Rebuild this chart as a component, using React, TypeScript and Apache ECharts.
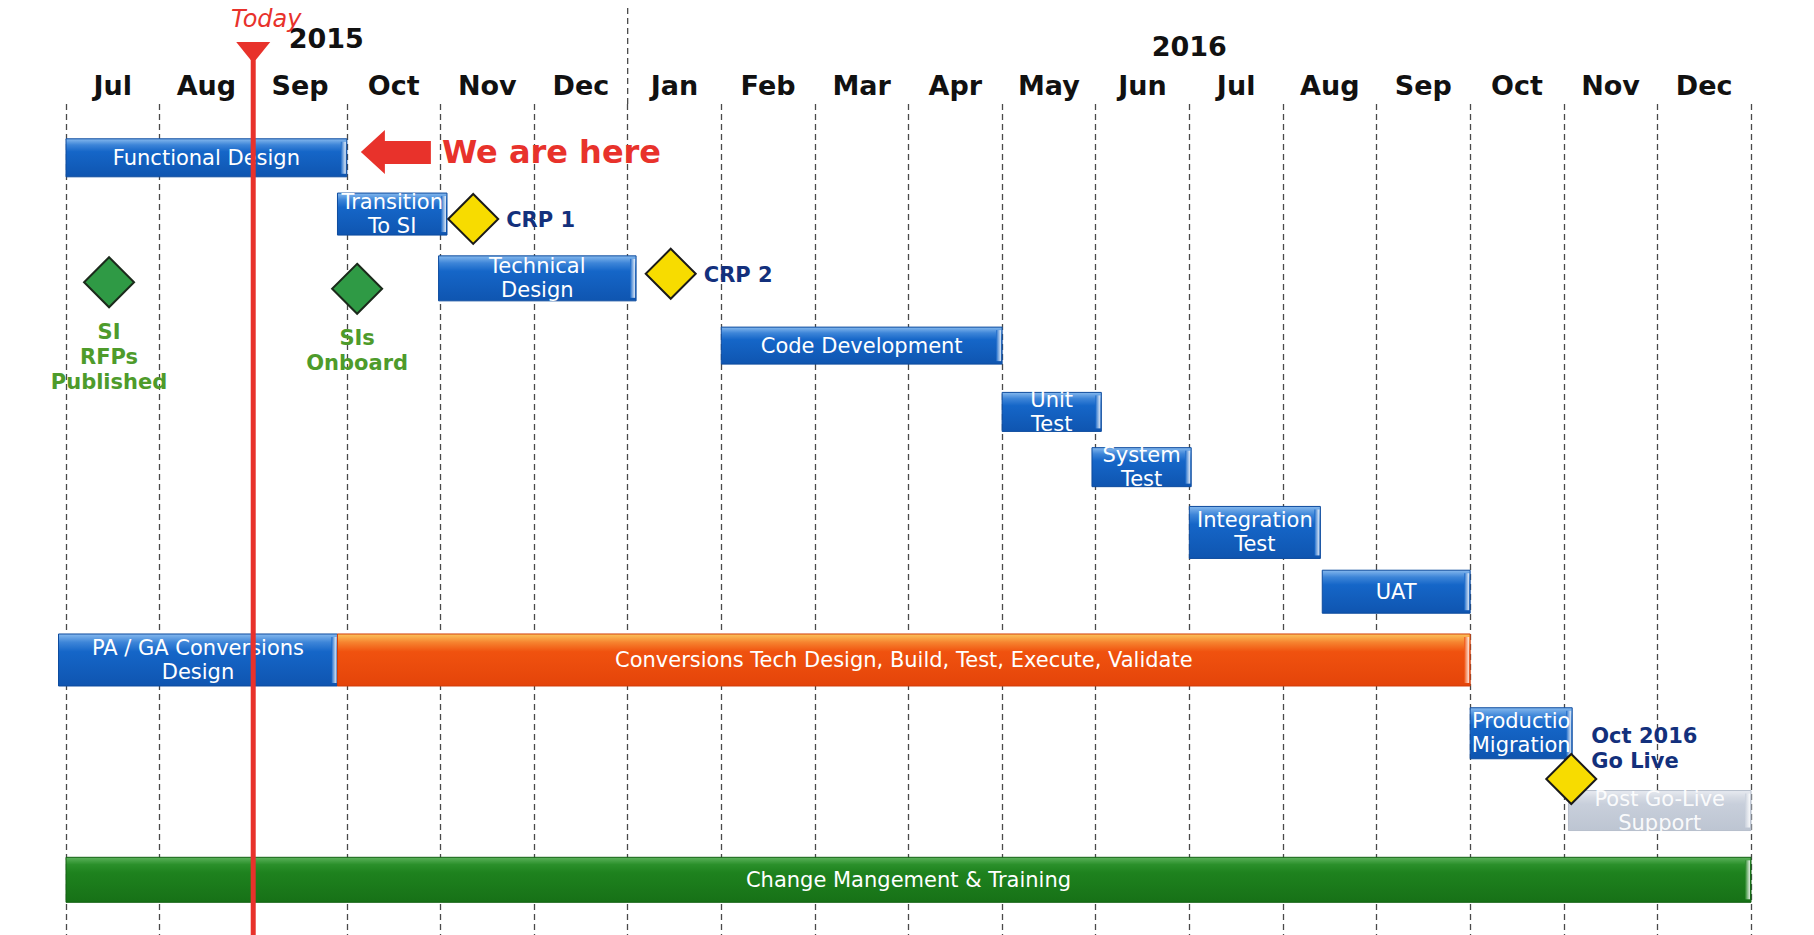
import React, { useEffect, useRef } from "react";
import * as echarts from "echarts";

// ---------- data ----------
const months = ["Jul", "Aug", "Sep", "Oct", "Nov", "Dec", "Jan", "Feb", "Mar", "Apr", "May", "Jun", "Jul", "Aug", "Sep", "Oct", "Nov", "Dec"];
const yearLabels = ["2015", "2016"];
const yearAt = [2.78, 12.0]; // in month units from Jul 2015
const yearBreakAt = 6; // Jan 2016 boundary

const taskNames = [
  "Functional Design",
  "Transition\nTo SI",
  "Technical\nDesign",
  "Code Development",
  "Unit\nTest",
  "System\nTest",
  "Integration\nTest",
  "UAT",
  "PA / GA Conversions\nDesign",
  "Conversions Tech Design, Build, Test, Execute, Validate",
  "Production\nMigration",
  "Post Go-Live\nSupport",
  "Change Mangement & Training",
];
const taskStart = [0, 2.9, 3.98, 7.0, 10.0, 10.96, 12.0, 13.42, -0.08, 2.9, 15.0, 16.05, 0];
const taskEnd = [3.0, 4.07, 6.09, 10.0, 11.06, 12.02, 13.4, 15.0, 2.9, 15.0, 16.09, 18.0, 18.0];
const taskRow = [0, 1, 2, 3, 4, 5, 6, 7, 8, 8, 9, 10, 11];
const taskKind = ["blue", "blue", "blue", "blue", "blue", "blue", "blue", "blue", "blue", "orange", "blue", "gray", "green"];

const milestoneNames = ["SI\nRFPs\nPublished", "SIs\nOnboard", "CRP 1", "CRP 2", "Oct 2016\nGo Live"];
const milestoneAt = [0.46, 3.11, 4.35, 6.46, 16.08];
const milestoneRow = [2.06, 2.16, 1.09, 1.93, 9.67];
const milestoneKind = ["green", "green", "yellow", "yellow", "yellow"];

const todayAt = 2.0;
const todayLabel = "Today";
const hereLabel = "We are here";
const hereAt = 3.15;
const hereRow = 0.05;

// ---------- styles ----------
const ROW_BAR_H = [38, 42, 45, 37, 39, 39, 52, 43, 52, 51, 40, 45];
const ROW_NUDGE = [10, 1, 0, 2, 3, -7, -7, -13, -10, -2, 10, 14]; // px, lane spacing of the original slide
const LABEL_POS = ["below", "below", "right", "right", "aboveRight"];
const FONT = "'DejaVu Sans', Verdana, sans-serif";
const RED = "#e8322b";
const GRID_LINE = { color: "#4a4a4a", width: 1.3, type: [6, 4] as number[] };

const PALETTE: Record<string, any> = {
  blue: { top: "#86b9ee", hi: "#3d85d8", main: "#1566c8", bottom: "#0f55b0", edge: "#0d4b9e", text: "#ffffff" },
  orange: { top: "#fbc45c", hi: "#f6832f", main: "#f0520f", bottom: "#e4440a", edge: "#d23c08", text: "#ffffff" },
  green: { top: "#5cb25c", hi: "#2b902b", main: "#1e821e", bottom: "#177117", edge: "#126112", text: "#ffffff" },
  gray: { top: "#e8ebf1", hi: "#d6dbe4", main: "#c8cfdb", bottom: "#bdc5d2", edge: "#b7bfcc", text: "rgba(255,255,255,0.92)" },
};
const DIAMOND: Record<string, any> = {
  green: { fill: "#2f9a45", stroke: "#1b2a1b", label: "#4e9b2b" },
  yellow: { fill: "#f7dc00", stroke: "#1a1a1a", label: "#13307c" },
};

export default function App() {
  const ref = useRef<HTMLDivElement>(null);

  useEffect(() => {
    if (!ref.current) return;
    const chart = echarts.init(ref.current, undefined, { renderer: "svg" });

    const taskData = taskStart.map((s, i) => [s, taskEnd[i], taskRow[i]]);
    const msData = milestoneAt.map((x, i) => [x, milestoneRow[i]]);

    const option: any = {
      animation: false,
      backgroundColor: "#ffffff",
      grid: { left: 66, right: 63, top: 104, bottom: 0, containLabel: false },
      xAxis: [
        {
          type: "category",
          data: months,
          position: "top",
          boundaryGap: true,
          axisLine: { show: false },
          axisTick: { show: false },
          axisLabel: { interval: 0, margin: 5, fontSize: 27, fontWeight: "bold", color: "#111", fontFamily: FONT },
          splitLine: { show: true, interval: 0, lineStyle: GRID_LINE },
        },
        { type: "value", min: 0, max: 18, show: false },
      ],
      yAxis: [{ type: "value", min: -0.671, max: 12.06, inverse: true, show: false }],
      series: [
        {
          type: "custom",
          name: "tasks",
          xAxisIndex: 1,
          yAxisIndex: 0,
          silent: true,
          z: 2,
          encode: { x: [0, 1], y: 2 },
          data: taskData,
          renderItem: (params: any, api: any) => {
            const i = params.dataIndex;
            const row = taskRow[i];
            const a = api.coord([api.value(0), api.value(2)]);
            const b = api.coord([api.value(1), api.value(2)]);
            const h = ROW_BAR_H[row];
            const cy = a[1] + ROW_NUDGE[row];
            const x = a[0];
            const w = b[0] - a[0];
            const y = cy - h / 2;
            const p = PALETTE[taskKind[i]];
            return {
              type: "group",
              children: [
                {
                  type: "rect",
                  shape: { x, y, width: w, height: h },
                  style: {
                    fill: new echarts.graphic.LinearGradient(0, 0, 0, 1, [
                      { offset: 0, color: p.top },
                      { offset: 0.16, color: p.hi },
                      { offset: 0.34, color: p.main },
                      { offset: 1, color: p.bottom },
                    ]),
                    stroke: p.edge,
                    lineWidth: 1,
                  },
                },
                {
                  type: "rect",
                  shape: { x: x + w - 6, y: y + 3, width: 5, height: h - 6 },
                  style: {
                    fill: new echarts.graphic.LinearGradient(0, 0, 1, 0, [
                      { offset: 0, color: p.main },
                      { offset: 1, color: "rgba(255,255,255,0.85)" },
                    ]),
                  },
                },
                {
                  type: "text",
                  style: {
                    text: taskNames[i],
                    x: x + w / 2,
                    y: cy,
                    align: "center",
                    verticalAlign: "middle",
                    fill: p.text,
                    fontSize: 21,
                    fontFamily: FONT,
                    lineHeight: 24,
                    width: w - 2,
                    overflow: "truncate",
                    ellipsis: "",
                  },
                },
              ],
            };
          },
        },
        {
          type: "custom",
          name: "milestones",
          xAxisIndex: 1,
          yAxisIndex: 0,
          silent: true,
          z: 4,
          encode: { x: 0, y: 1 },
          data: msData,
          renderItem: (params: any, api: any) => {
            const i = params.dataIndex;
            const c = api.coord([api.value(0), api.value(1)]);
            const s = 25;
            const d = DIAMOND[milestoneKind[i]];
            const pos = LABEL_POS[i];
            let label: any;
            if (pos === "below") {
              label = { x: c[0], y: c[1] + 37, align: "center", verticalAlign: "top" };
            } else if (pos === "right") {
              label = { x: c[0] + 33, y: c[1] + 1, align: "left", verticalAlign: "middle" };
            } else {
              label = { x: c[0] + 20, y: c[1] - 30, align: "left", verticalAlign: "middle" };
            }
            return {
              type: "group",
              children: [
                {
                  type: "polygon",
                  shape: { points: [[c[0], c[1] - s], [c[0] + s, c[1]], [c[0], c[1] + s], [c[0] - s, c[1]]] },
                  style: { fill: d.fill, stroke: d.stroke, lineWidth: 2 },
                },
                {
                  type: "text",
                  style: {
                    text: milestoneNames[i],
                    ...label,
                    fill: d.label,
                    fontSize: 21,
                    fontWeight: "bold",
                    fontFamily: FONT,
                    lineHeight: 25,
                  },
                },
              ],
            };
          },
        },
        {
          type: "custom",
          name: "annotations",
          xAxisIndex: 1,
          yAxisIndex: 0,
          silent: true,
          z: 3,
          encode: { x: 0, y: 1 },
          data: [[todayAt, hereRow]],
          renderItem: (params: any, api: any) => {
            const tx = api.coord([todayAt, 0])[0];
            const here = api.coord([hereAt, hereRow]);
            const jx = api.coord([yearBreakAt, 0])[0];
            const children: any[] = [];
            // Jan 2016 boundary extends above the month labels
            children.push({
              type: "line",
              shape: { x1: jx, y1: 8, x2: jx, y2: 104 },
              style: { stroke: GRID_LINE.color, lineWidth: GRID_LINE.width, lineDash: GRID_LINE.type },
            });
            yearLabels.forEach((t, k) => {
              const yx = api.coord([yearAt[k], 0])[0];
              children.push({
                type: "text",
                style: {
                  text: t,
                  x: yx,
                  y: k === 0 ? 38 : 46,
                  align: "center",
                  verticalAlign: "middle",
                  fill: "#111",
                  fontSize: 27,
                  fontWeight: "bold",
                  fontFamily: FONT,
                },
              });
            });
            // Today marker
            children.push({
              type: "line",
              shape: { x1: tx, y1: 56, x2: tx, y2: 935 },
              style: { stroke: RED, lineWidth: 5 },
            });
            children.push({
              type: "polygon",
              shape: { points: [[tx - 17, 42], [tx + 17, 42], [tx + 2.5, 60], [tx - 2.5, 60]] },
              style: { fill: RED },
            });
            children.push({
              type: "text",
              style: {
                text: todayLabel,
                x: tx + 13,
                y: 19,
                align: "center",
                verticalAlign: "middle",
                fill: RED,
                fontSize: 24,
                fontStyle: "italic",
                fontFamily: FONT,
              },
            });
            // "We are here" arrow
            const ax = here[0];
            const ay = here[1] + ROW_NUDGE[0] - 9;
            children.push({
              type: "polygon",
              shape: {
                points: [
                  [ax, ay],
                  [ax + 24, ay - 22],
                  [ax + 24, ay - 11],
                  [ax + 70, ay - 11],
                  [ax + 70, ay + 12],
                  [ax + 24, ay + 12],
                  [ax + 24, ay + 22],
                ],
              },
              style: { fill: RED },
            });
            children.push({
              type: "text",
              style: {
                text: hereLabel,
                x: ax + 81,
                y: ay,
                align: "left",
                verticalAlign: "middle",
                fill: RED,
                fontSize: 32,
                fontWeight: "bold",
                fontFamily: FONT,
              },
            });
            return { type: "group", children };
          },
        },
      ],
    };

    chart.setOption(option);
    return () => chart.dispose();
  }, []);

  return (
    <div
      ref={ref}
      style={{ position: "fixed", left: 0, top: 0, width: 1814, height: 935, background: "#fff" }}
    />
  );
}
